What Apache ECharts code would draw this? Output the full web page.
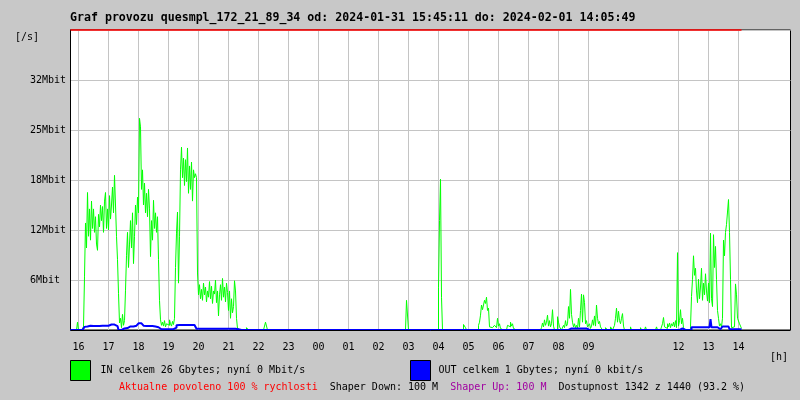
<!DOCTYPE html>
<html><head><meta charset="utf-8">
<script src="https://cdn.jsdelivr.net/npm/echarts@6/dist/echarts.min.js"></script>
<style>html,body{margin:0;padding:0;background:#c8c8c8}#c{width:800px;height:400px}</style>
</head><body><div id="c"></div>
<script>
const titleText = 'Graf provozu quesmpl_172_21_89_34 od: 2024-01-31 15:45:11 do: 2024-02-01 14:05:49';
// hour labels, one per hour gridline starting at 16:00 ('' = no gridline / no label)
const hourLabels = ['16','17','18','19','20','21','22','23','00','01','02','03','04','05','06','07','08','09','','','12','13','14'];
const yTickLabels = ['', '6Mbit', '12Mbit', '18Mbit', '25Mbit', '32Mbit', ''];
const yStep = 6.4;
const yMax = 38.4;
const slotCount = 721;      // 2-minute slots over the 24 h window (15:44 -> 15:44)
const firstHourSlot = 8;    // slot of 16:00
const slotsPerHour = 30;

// IN traffic [Mbit/s], one value per 2-minute slot from 15:44
const inData = [
 0,0,0,0,0,0,0,1.0,0,0,0,0,0,0.4,6.8,13.7,10.5,17.6,12.0,15.5,11.5,16.5,13.0,15.5,12.5,14.5,11.0,10.2,14.8,13.2,
 16.0,14.0,15.8,12.5,16.5,17.6,13.0,15.5,12.8,17.2,14.2,16.0,18.3,15.0,19.8,16.0,12.0,9.0,4.7,0.9,1.5,0.3,2.0,0.6,1.2,5.1,9.5,12.5,8.0,11.0,
 14.0,10.5,15.0,8.5,12.0,16.0,13.5,17.0,15.0,27.1,26.0,18.0,20.5,16.0,18.8,15.0,17.5,14.5,18.0,15.5,9.4,14.0,11.5,16.6,13.0,15.0,12.5,14.5,9.0,3.8,
 1.3,0.6,1.0,0.5,1.2,0.4,0.8,1.0,0.6,1.3,0.8,0.5,1.1,0.7,1.5,8.0,12.4,15.1,6.0,12.0,20.5,23.4,19.5,22.0,18.5,21.8,19.0,23.3,17.5,21.0,
 18.0,21.5,16.5,20.5,19.5,20.0,19.5,7.3,4.5,5.8,4.0,5.2,3.8,6.0,4.5,5.5,3.6,5.0,4.2,6.2,4.0,5.6,3.4,5.0,4.6,6.4,3.5,5.0,1.8,4.5,
 5.8,3.8,6.6,4.2,5.5,3.6,6.0,4.8,2.5,5.0,1.5,4.0,2.2,3.0,6.3,5.0,1.5,0.2,0,0,0,0,0,0,0,0,0.3,0.2,0,0,
 0,0,0,0,0,0,0,0,0,0,0,0,0,0,0,1.0,1.0,0,0,0,0,0,0,0,0,0,0,0,0,0,
 0,0,0,0,0,0,0,0,0,0,0,0,0,0,0,0,0,0,0,0,0,0,0,0,0,0,0,0,0,0,
 0,0,0,0,0,0,0,0,0,0,0,0,0,0,0,0,0,0,0,0,0,0,0,0,0,0,0,0,0,0,
 0,0,0,0,0,0,0,0,0,0,0,0,0,0,0,0,0,0,0,0,0,0,0,0,0,0,0,0,0,0,
 0,0,0,0,0,0,0,0,0,0,0,0,0,0,0,0,0,0,0,0,0,0,0,0,0,0,0,0,0,0,
 0,0,0,0,0,0,3.8,3.8,0,0,0,0,0,0,0,0,0,0,0,0,0,0,0,0,0,0,0,0,0,0,
 0,0,0,0,0,0,0,0,5.4,14.0,19.3,4.2,0,0,0,0,0,0,0,0,0,0,0,0,0,0,0,0,0,0,
 0,0,0,0.7,0.7,0.3,0,0,0,0,0,0,0,0,0,0,0,0,0.6,1.0,1.9,3.2,2.6,3.2,3.8,3.4,4.2,2.5,2.8,0.4,
 0.6,0.3,0.5,0.2,0.6,0.4,0.3,1.5,0.5,0.8,0.2,0.4,0,0,0,0,0,0.6,0.8,0.4,1.0,0.5,0.8,0.2,0,0,0,0,0,0,
 0,0,0,0,0,0,0,0,0,0,0,0,0,0,0,0,0,0,0,0,0,0.3,0.9,0.4,1.3,0.6,1.0,1.9,0.5,1.2,
 0.4,0.8,2.6,0.5,0,0,0,1.7,1.0,0.4,0.2,0,0,0.6,0.3,1.2,0.5,0.8,3.0,1.5,5.2,2.0,1.0,0.4,0.8,0.3,0.6,0.2,1.5,0.4,
 2.5,4.6,1.0,4.5,3.5,0.8,1.2,0.4,0.3,0.8,0.2,0.5,1.3,0.6,1.8,0.5,3.2,1.5,0.8,1.1,0.4,0.6,0,0,0,0.3,0.2,0,0,0,
 0.4,0.2,0,0,0.6,1.5,2.8,1.0,2.4,1.2,0.8,1.5,2.1,0.5,0,0,0,0,0,0,0.4,0,0,0,0,0,0,0,0,0,
 0.3,0,0,0,0,0.4,0,0,0,0,0,0,0,0,0,0,0.4,0,0,0,0,0,0.8,1.6,0.4,0.6,0.2,0.8,0.4,0.9,
 0.3,0.8,0.5,1.0,0.4,1.2,0.3,9.9,0.5,1.2,2.6,0.8,1.5,0.3,0,0,0,0,0,0,0.4,4.3,6.5,9.5,7.0,7.9,5.0,3.5,6.5,4.0,
 5.5,7.9,3.8,6.0,4.5,7.2,5.0,3.7,6.0,3.5,12.4,4.0,3.0,12.2,8.0,10.7,6.5,2.5,1.5,0.5,0.8,0.4,1.5,11.5,9.5,12.5,13.5,15.1,16.7,12.5,
 6.5,0.3,0.2,0.4,0.6,5.9,4.5,1.5,1.6,0.8,0.5,0.2
];

// OUT traffic [Mbit/s], same slots
const outData = [
 0,0,0,0,0,0,0,0,0,0,0,0,0,0,0.4,0.5,0.45,0.6,0.5,0.55,0.45,0.6,0.5,0.55,0.6,0.5,0.45,0.55,0.5,0.6,
 0.5,0.55,0.6,0.5,0.55,0.6,0.5,0.55,0.6,0.65,0.7,0.8,0.75,0.7,0.65,0.6,0.5,0.4,0,0,0,0,0,0.2,0.2,0.2,0.25,0.3,0.45,0.45,
 0.45,0.5,0.45,0.5,0.5,0.55,0.6,0.7,0.85,0.9,0.85,0.8,0.7,0.55,0.5,0.5,0.55,0.5,0.5,0.45,0.5,0.5,0.45,0.5,0.45,0.4,0.4,0.35,0.3,0.3,
 0.1,0.1,0.1,0.1,0.1,0.1,0.1,0.1,0.1,0.1,0.1,0.1,0.1,0.1,0.1,0.3,0.6,0.65,0.65,0.65,0.65,0.65,0.65,0.65,0.65,0.65,0.65,0.65,0.65,0.65,
 0.65,0.65,0.65,0.65,0.65,0.6,0.15,0.15,0.15,0.15,0.15,0.15,0.15,0.15,0.15,0.15,0.15,0.15,0.15,0.15,0.15,0.15,0.15,0.15,0.15,0.15,0.15,0.15,0.15,0.15,
 0.15,0.15,0.15,0.15,0.15,0.15,0.15,0.15,0.15,0.15,0.15,0.15,0.15,0.15,0.15,0.25,0.15,0.1,0,0,0,0,0,0,0,0,0,0,0,0,
 0,0,0,0,0,0,0,0,0,0,0,0,0,0,0,0,0,0,0,0,0,0,0,0,0,0,0,0,0,0,
 0,0,0,0,0,0,0,0,0,0,0,0,0,0,0,0,0,0,0,0,0,0,0,0,0,0,0,0,0,0,
 0,0,0,0,0,0,0,0,0,0,0,0,0,0,0,0,0,0,0,0,0,0,0,0,0,0,0,0,0,0,
 0,0,0,0,0,0,0,0,0,0,0,0,0,0,0,0,0,0,0,0,0,0,0,0,0,0,0,0,0,0,
 0,0,0,0,0,0,0,0,0,0,0,0,0,0,0,0,0,0,0,0,0,0,0,0,0,0,0,0,0,0,
 0,0,0,0,0,0,0,0,0,0,0,0,0,0,0,0,0,0,0,0,0,0,0,0,0,0,0,0,0,0,
 0,0,0,0,0,0,0,0,0,0,0,0,0,0,0,0,0,0,0,0,0,0,0,0,0,0,0,0,0,0,
 0,0,0,0,0,0,0,0,0,0,0,0,0,0,0,0,0,0,0,0.2,0,0,0,0,0,0,0,0,0.2,0,
 0,0,0,0,0,0,0,0,0,0,0,0,0,0,0,0,0,0,0,0,0,0,0,0,0,0,0,0,0,0,
 0,0,0,0,0,0,0,0,0,0,0,0,0,0,0,0,0,0,0,0,0,0,0.15,0,0,0,0,0,0,0,
 0,0,0,0,0,0,0,0,0,0,0,0,0,0,0,0,0,0,0.2,0.2,0.2,0.2,0.2,0.2,0.2,0.2,0.2,0.2,0.2,0.2,
 0.2,0.2,0.2,0.2,0.2,0.2,0,0,0,0,0,0,0,0,0,0,0,0,0,0,0,0,0,0,0,0,0,0,0,0,
 0,0,0,0,0,0,0,0,0,0,0,0,0,0,0,0,0,0,0,0,0,0,0,0,0,0,0,0,0,0,
 0,0,0,0,0,0,0,0,0,0,0,0,0,0,0,0,0,0,0,0,0,0,0,0,0,0,0,0,0,0,
 0,0,0,0,0,0,0,0,0,0,0.2,0.2,0.2,0.2,0,0,0,0,0,0,0,0.35,0.35,0.35,0.35,0.35,0.35,0.35,0.35,0.35,
 0.35,0.35,0.35,0.35,0.35,0.35,0.35,0.35,0.35,0.35,1.4,0.35,0.35,0.35,0.35,0.35,0.35,0.1,0.1,0.1,0.1,0.1,0.45,0.45,0.45,0.45,0.45,0.45,0.45,0.1,
 0.1,0.1,0.1,0.1,0.1,0.1,0.1,0.1,0.1,0.1,0.1,0.1
];

const legendInText = 'IN celkem 26 Gbytes; nyní 0 Mbit/s';
const legendOutText = 'OUT celkem 1 Gbytes; nyní 0 kbit/s';
const footerParts = [
  ['r', 'Aktualne povoleno 100 % rychlosti'],
  ['k', 'Shaper Down: 100 M'],
  ['p', 'Shaper Up: 100 M'],
  ['k', 'Dostupnost 1342 z 1440 (93.2 %)']
];

const MONO = "'DejaVu Sans Mono', 'Liberation Mono', monospace";
const slots = Array.from({length: slotCount}, (_, i) => String(i));
function hourIndex(i) {
  if (i < firstHourSlot || (i - firstHourSlot) % slotsPerHour !== 0) return -1;
  return (i - firstHourSlot) / slotsPerHour;
}
function isLabeledHour(i) {
  const k = hourIndex(i);
  return k >= 0 && k < hourLabels.length && hourLabels[k] !== '';
}

const chart = echarts.init(document.getElementById('c'), null, {renderer: 'canvas'});
chart.setOption({
  animation: false,
  backgroundColor: '#c8c8c8',
  textStyle: {fontFamily: MONO},
  title: [
    {text: titleText, left: 70, top: 11, padding: 0,
     textStyle: {fontFamily: MONO, fontSize: 11.6, fontWeight: 'bold', color: '#000', lineHeight: 14}},
    {text: '[/s]', left: 15, top: 31, padding: 0,
     textStyle: {fontFamily: MONO, fontSize: 10, fontWeight: 'normal', color: '#000', lineHeight: 12}},
    {text: '[h]', left: 770, top: 351, padding: 0,
     textStyle: {fontFamily: MONO, fontSize: 10, fontWeight: 'normal', color: '#000', lineHeight: 12}},
    {text: footerParts.map(p => '{' + p[0] + '|' + p[1] + '}').join('{k|  }'), left: 119, top: 381, padding: 0,
     textStyle: {fontFamily: MONO, fontSize: 10, fontWeight: 'normal', color: '#000', lineHeight: 12,
       rich: {
         r: {color: '#ff0000', fontFamily: MONO, fontSize: 10, lineHeight: 12},
         k: {color: '#000000', fontFamily: MONO, fontSize: 10, lineHeight: 12},
         p: {color: '#a000a0', fontFamily: MONO, fontSize: 10, lineHeight: 12}
       }}}
  ],
  legend: [
    {data: [{name: 'IN', icon: 'rect'}], left: 70, top: 360, padding: 0, itemWidth: 20, itemHeight: 20,
     selectedMode: false, formatter: () => legendInText,
     itemStyle: {borderColor: '#000', borderWidth: 1},
     textStyle: {fontFamily: MONO, fontSize: 10, color: '#000', padding: [0, 0, 7, 5]}},
    {data: [{name: 'OUT', icon: 'rect'}], left: 410, top: 360, padding: 0, itemWidth: 20, itemHeight: 20,
     selectedMode: false, formatter: () => legendOutText,
     itemStyle: {borderColor: '#000', borderWidth: 1},
     textStyle: {fontFamily: MONO, fontSize: 10, color: '#000', padding: [0, 0, 7, 3]}}
  ],
  grid: {left: 70.5, right: 9.5, top: 30, bottom: 70, containLabel: false, outerBoundsMode: 'none',
         show: true, backgroundColor: '#ffffff', borderColor: '#000', borderWidth: 1},
  xAxis: {
    type: 'category', data: slots, boundaryGap: false,
    axisLine: {show: false}, axisTick: {show: false},
    axisLabel: {interval: (i) => isLabeledHour(i), formatter: (v, i) => hourLabels[hourIndex(i)] || '',
      margin: 11, fontFamily: MONO, fontSize: 10, color: '#000', lineHeight: 12},
    splitLine: {show: true, interval: (i) => isLabeledHour(i), lineStyle: {color: '#c4c4c4', width: 1}}
  },
  yAxis: {
    type: 'value', min: 0, max: yMax, interval: yStep,
    axisLine: {show: true, lineStyle: {color: '#000'}}, axisTick: {show: false},
    axisLabel: {align: 'left', margin: 40.5, fontFamily: MONO, fontSize: 10, color: '#000',
      formatter: (v) => yTickLabels[Math.round(v / yStep)] || ''},
    splitLine: {show: true, lineStyle: {color: '#c4c4c4', width: 1}}
  },
  series: [
    {name: 'IN', type: 'line', step: 'end', data: inData, symbol: 'none', showSymbol: false,
     lineStyle: {color: '#00ff00', width: 1}, itemStyle: {color: '#00ff00'}, z: 2,
     markLine: {silent: true, symbol: ['none', 'none'], label: {show: false}, animation: false,
       lineStyle: {color: '#ff0000', width: 1.5, type: 'solid'},
       data: [[{coord: [0, yMax]}, {coord: [inData.length - 1, yMax]}]]}},
    {name: 'OUT', type: 'line', step: 'end', data: outData, symbol: 'none', showSymbol: false,
     lineStyle: {color: '#0000ff', width: 2}, itemStyle: {color: '#0000ff'}, z: 3,
     markLine: {silent: true, symbol: ['none', 'none'], label: {show: false}, animation: false,
       lineStyle: {color: '#000000', width: 1, type: 'solid'},
       data: [{yAxis: 0}]}}
  ]
});
</script>
</body></html>
